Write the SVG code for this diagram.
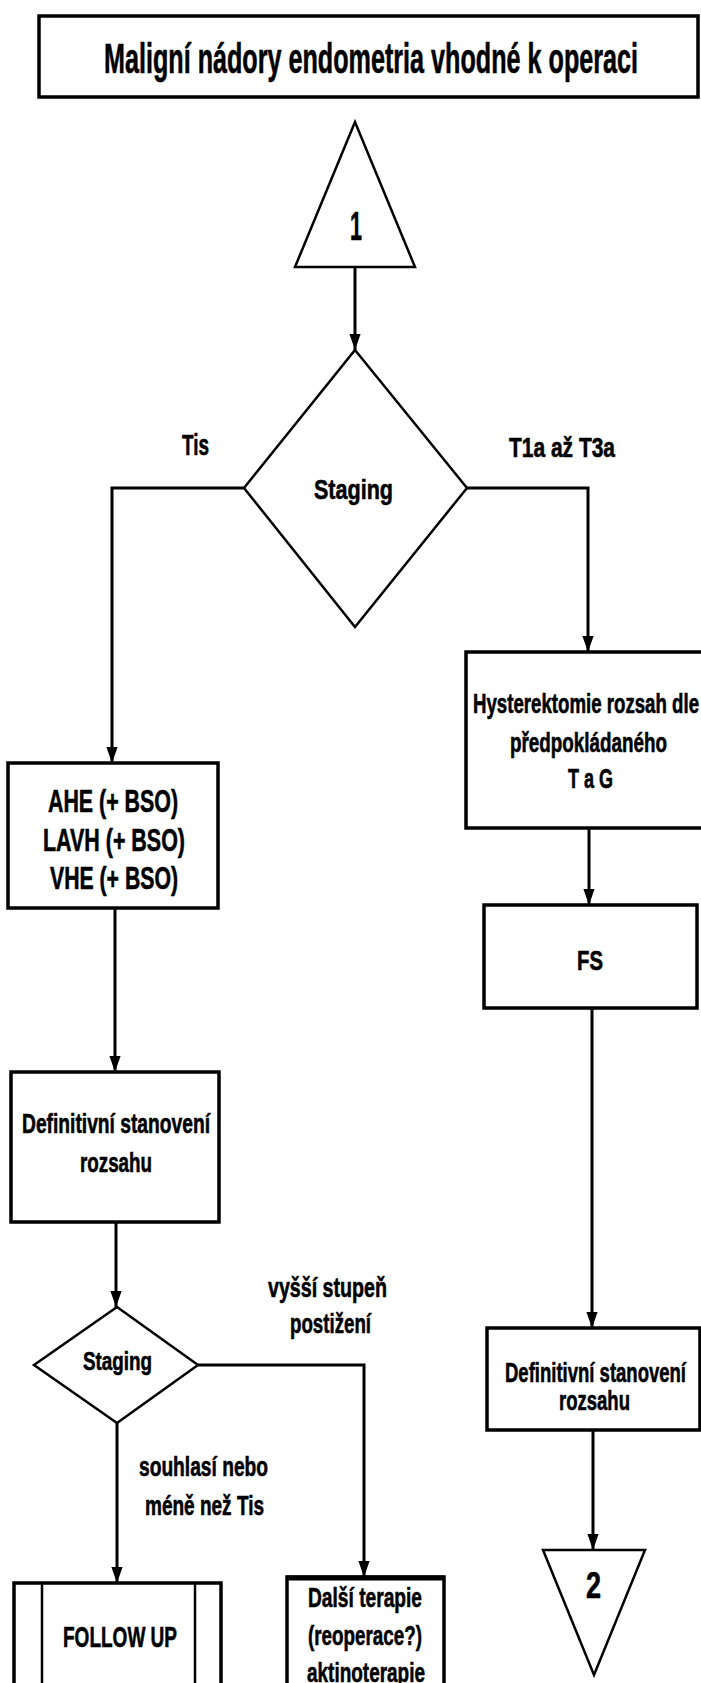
<svg xmlns="http://www.w3.org/2000/svg" width="701" height="1683" viewBox="0 0 701 1683">
<style>
.box{fill:#fff;stroke:#000;stroke-width:3.5}
.shape{fill:#fff;stroke:#000;stroke-width:2.5}
.con{fill:none;stroke:#000;stroke-width:3}
text{font-family:"Liberation Sans",Arial,sans-serif;font-weight:bold;fill:#000;stroke:#000;stroke-width:0.6}
</style>
<defs>
<marker id="arr" markerUnits="userSpaceOnUse" markerWidth="16" markerHeight="22" refX="20" refY="7" orient="auto" viewBox="0 0 20 14">
<path d="M0,0 L20,7 L0,14 Z" fill="#000"/>
</marker>
</defs>

<g id="title">
<rect class="box" x="39" y="16" width="659" height="81" stroke-width="4"/>
<text x="104" y="73" font-size="42" textLength="534" lengthAdjust="spacingAndGlyphs">Maligní nádory endometria vhodné k operaci</text>
</g>

<g id="start1">
<polygon class="shape" points="355,122 295,267 415,267"/>
<text x="350" y="240" font-size="40" textLength="12" lengthAdjust="spacingAndGlyphs">1</text>
</g>

<g id="staging1">
<polygon class="shape" points="355,350 467,488 355,627 244,488"/>
<text x="314" y="499" font-size="28" textLength="79" lengthAdjust="spacingAndGlyphs">Staging</text>
</g>

<g id="ahe">
<rect class="box" x="8" y="763" width="210" height="145"/>
<text x="48" y="812" font-size="31" textLength="130" lengthAdjust="spacingAndGlyphs">AHE (+ BSO)</text>
<text x="43" y="851" font-size="31" textLength="142" lengthAdjust="spacingAndGlyphs">LAVH (+ BSO)</text>
<text x="50" y="889" font-size="31" textLength="128" lengthAdjust="spacingAndGlyphs">VHE (+ BSO)</text>
</g>

<g id="hysterektomie">
<rect class="box" x="466" y="652" width="240" height="176"/>
<text x="473" y="713" font-size="27" textLength="226" lengthAdjust="spacingAndGlyphs">Hysterektomie rozsah dle</text>
<text x="510" y="752" font-size="27" textLength="157" lengthAdjust="spacingAndGlyphs">předpokládaného</text>
<text x="568" y="788" font-size="27" textLength="45" lengthAdjust="spacingAndGlyphs">T a G</text>
</g>

<g id="fs">
<rect class="box" x="484" y="905" width="213" height="103"/>
<text x="577" y="970" font-size="28" textLength="26" lengthAdjust="spacingAndGlyphs">FS</text>
</g>

<g id="definitivni-left">
<rect class="box" x="11" y="1072" width="208" height="150"/>
<text x="22" y="1133" font-size="28" textLength="188" lengthAdjust="spacingAndGlyphs">Definitivní stanovení</text>
<text x="80" y="1172" font-size="28" textLength="72" lengthAdjust="spacingAndGlyphs">rozsahu</text>
</g>

<g id="staging2">
<polygon class="shape" points="117,1307 198,1365 117,1423 34,1365"/>
<text x="83" y="1370" font-size="25" textLength="69" lengthAdjust="spacingAndGlyphs">Staging</text>
</g>

<g id="definitivni-right">
<rect class="box" x="487" y="1328" width="213" height="102"/>
<text x="505" y="1382" font-size="28" textLength="181" lengthAdjust="spacingAndGlyphs">Definitivní stanovení</text>
<text x="559" y="1410" font-size="28" textLength="71" lengthAdjust="spacingAndGlyphs">rozsahu</text>
</g>

<g id="followup">
<rect class="box" x="14" y="1583" width="207" height="110"/>
<line x1="42" y1="1583" x2="42" y2="1690" stroke="#000" stroke-width="2.5"/>
<line x1="195" y1="1583" x2="195" y2="1690" stroke="#000" stroke-width="2.5"/>
<text x="63" y="1647" font-size="30" textLength="114" lengthAdjust="spacingAndGlyphs">FOLLOW UP</text>
</g>

<g id="dalsi">
<rect class="box" x="287" y="1577" width="157" height="116"/>
<line x1="287" y1="1578" x2="444" y2="1578" stroke="#000" stroke-width="5"/>
<text x="308" y="1607" font-size="28" textLength="114" lengthAdjust="spacingAndGlyphs">Další terapie</text>
<text x="308" y="1645" font-size="28" textLength="114" lengthAdjust="spacingAndGlyphs">(reoperace?)</text>
<text x="307" y="1682" font-size="28" textLength="118" lengthAdjust="spacingAndGlyphs">aktinoterapie</text>
</g>

<g id="end2">
<polygon class="shape" points="543,1550 645,1550 594,1675"/>
<text x="586" y="1598" font-size="36" textLength="15" lengthAdjust="spacingAndGlyphs">2</text>
</g>

<g id="connectors">
<path class="con" d="M355,267 L355,350" marker-end="url(#arr)"/>
<path class="con" d="M244,488 L112,488 L112,763" marker-end="url(#arr)"/>
<path class="con" d="M467,488 L588,488 L588,652" marker-end="url(#arr)"/>
<path class="con" d="M115,908 L115,1072" marker-end="url(#arr)"/>
<path class="con" d="M589,828 L589,905" marker-end="url(#arr)"/>
<path class="con" d="M592,1008 L592,1328" marker-end="url(#arr)"/>
<path class="con" d="M116,1222 L116,1307" marker-end="url(#arr)"/>
<path class="con" d="M198,1365 L364,1365 L364,1577" marker-end="url(#arr)"/>
<path class="con" d="M117,1423 L117,1583" marker-end="url(#arr)"/>
<path class="con" d="M593,1430 L593,1550" marker-end="url(#arr)"/>
</g>

<g id="labels">
<text x="182" y="455" font-size="29" textLength="27" lengthAdjust="spacingAndGlyphs">Tis</text>
<text x="509" y="457" font-size="28" textLength="106" lengthAdjust="spacingAndGlyphs">T1a až T3a</text>
<text x="268" y="1297" font-size="28" textLength="119" lengthAdjust="spacingAndGlyphs">vyšší stupeň</text>
<text x="290" y="1333" font-size="28" textLength="81" lengthAdjust="spacingAndGlyphs">postižení</text>
<text x="139" y="1476" font-size="28" textLength="129" lengthAdjust="spacingAndGlyphs">souhlasí nebo</text>
<text x="145" y="1515" font-size="28" textLength="119" lengthAdjust="spacingAndGlyphs">méně než Tis</text>
</g>
</svg>
